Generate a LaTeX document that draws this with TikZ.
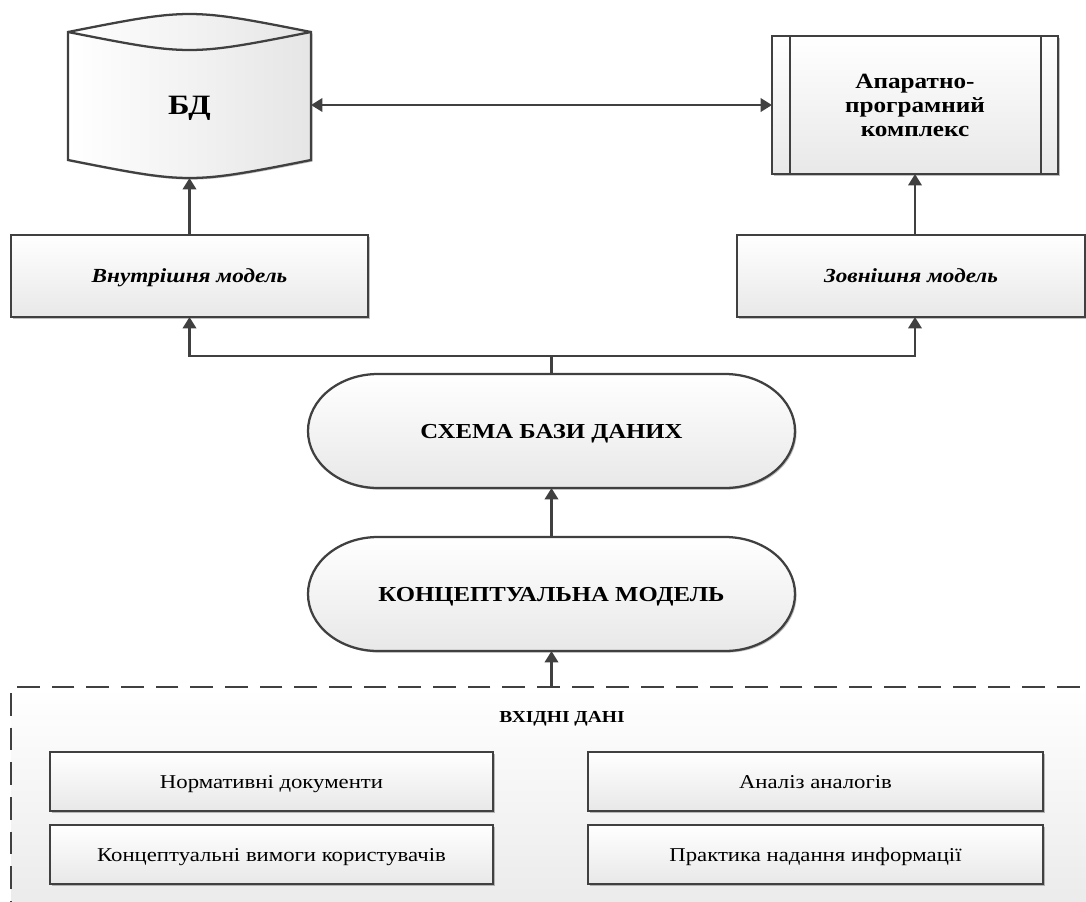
\documentclass[tikz,border=0pt]{standalone}
\usepackage{fontspec}
\setmainfont{Liberation Serif}[FakeStretch=1.16]
\usetikzlibrary{arrows.meta,shadows}
\definecolor{lc}{HTML}{404040}
\begin{document}
\begin{tikzpicture}[x=0.75pt,y=0.75pt,
  every node/.style={inner sep=0pt,outer sep=0pt},
  sz/.style 2 args={minimum width=#1*0.75pt,minimum height=#2*0.75pt},
  ln/.style={draw=lc,line width=1.7pt},
  arr/.style={draw=lc,line width=1.8pt,-{Triangle[length=8.5pt,width=10pt]}},
  darr/.style={draw=lc,line width=1.8pt,{Triangle[length=8.5pt,width=10pt]}-{Triangle[length=8.5pt,width=10pt]}},
  shd/.style={drop shadow={shadow xshift=1.2pt,shadow yshift=-1.2pt,opacity=0.25,fill=black}},
  box/.style={rectangle,ln,top color=white,bottom color=black!9,shd},
  boldtxt/.style={font=\bfseries\fontsize{16}{18}\selectfont,text depth=0pt},
  plain/.style={font=\fontsize{14.7}{17}\selectfont,text depth=0pt},
]
\useasboundingbox (0,0) rectangle (1086,-901);

% input data dashed area
\node[rectangle,draw=lc,line width=1.6pt,dash pattern=on 17pt off 9pt,
  top color=white,bottom color=black!9,anchor=north west,sz={1120}{250}] (in) at (11,-687) {};
\node[font=\bfseries\fontsize{12.6}{15}\selectfont,text depth=0pt] (inl) at (562,-717) {ВХІДНІ ДАНІ};
\node[box,plain,sz={443}{59}] (nd) at (271.5,-781.5) {Нормативні документи};
\node[box,plain,sz={443}{59}] (kv) at (271.5,-854.5) {Концептуальні вимоги користувачів};
\node[box,plain,sz={455}{59}] (aa) at (815.5,-781.5) {Аналіз аналогів};
\node[box,plain,sz={455}{59}] (pn) at (815.5,-854.5) {Практика надання информації};

% database cylinder
\path[ln,left color=white,right color=black!10,shd]
  (68,-32) .. controls (189.5,-8) .. (311,-32) -- (311,-160)
  .. controls (189.5,-184) .. (68,-160) -- cycle;
\draw[ln] (68,-32) .. controls (189.5,-56) .. (311,-32);
\node[sz={243}{146},font=\bfseries\fontsize{21}{24}\selectfont,text depth=0pt] (bd) at (189.5,-105) {БД};

% hardware-software complex
\node[box,sz={286}{138},align=center,font=\bfseries\fontsize{16.3}{18}\selectfont] (app) at (915,-105)
  {Апаратно-\\програмний\\комплекс};
\draw[ln] (790,-36) -- (790,-174);
\draw[ln] (1041,-36) -- (1041,-174);

% models
\node[box,sz={357}{82},font=\bfseries\itshape\fontsize{15}{18}\selectfont,text depth=0pt] (int) at (189.5,-276) {Внутрішня модель};
\node[box,sz={348}{82},font=\bfseries\itshape\fontsize{15}{18}\selectfont,text depth=0pt] (ext) at (911,-276) {Зовнішня модель};

% schema stadium
\path[ln,top color=white,bottom color=black!9,shd]
  (378,-374) -- (725,-374) arc[start angle=90,end angle=-90,x radius=70,y radius=57]
  -- (378,-488) arc[start angle=270,end angle=90,x radius=70,y radius=57] -- cycle;
\node[boldtxt,sz={487}{114}] (sch) at (551.5,-431) {СХЕМА БАЗИ ДАНИХ};

% conceptual model stadium
\path[ln,top color=white,bottom color=black!9,shd]
  (378,-537) -- (725,-537) arc[start angle=90,end angle=-90,x radius=70,y radius=57]
  -- (378,-651) arc[start angle=270,end angle=90,x radius=70,y radius=57] -- cycle;
\node[boldtxt,sz={487}{114}] (conc) at (551.5,-594) {КОНЦЕПТУАЛЬНА МОДЕЛЬ};

% connectors
\coordinate (bus) at (551.5,-356);
\draw[darr] (bd.east) -- (app.west);
\draw[arr] (int.north) -- (bd.south);
\draw[arr] (ext.north -| app.south) -- (app.south);
\draw[arr] (sch.north) |- (int.south |- bus) -- (int.south);
\draw[arr] (bus) -- (app.south |- bus) -- (app.south |- ext.south);
\draw[arr] (conc.north) -- (sch.south);
\draw[arr] (in.north -| conc.south) -- (conc.south);
\end{tikzpicture}
\end{document}
